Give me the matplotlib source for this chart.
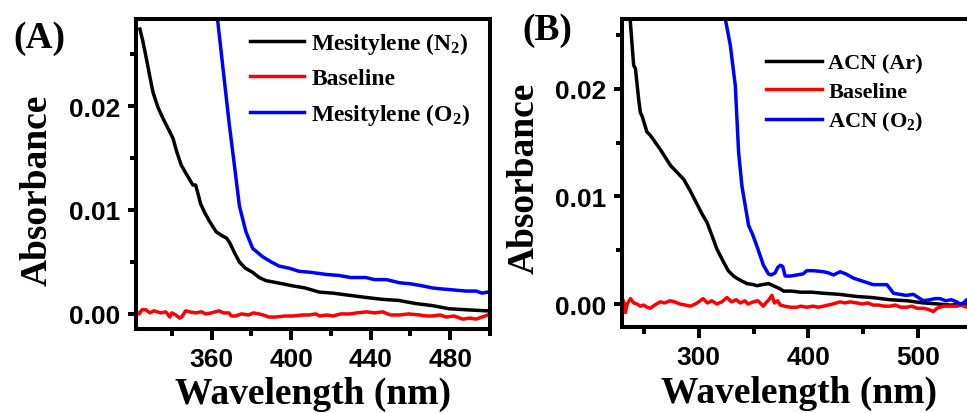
import numpy as np
import matplotlib
matplotlib.use("Agg")
import matplotlib.pyplot as plt
from matplotlib.ticker import MultipleLocator, AutoMinorLocator

plt.rcParams['font.family'] = ['Liberation Serif', 'DejaVu Serif']
plt.rcParams['font.weight'] = 'bold'
plt.rcParams['mathtext.fontset'] = 'custom'
plt.rcParams['mathtext.rm'] = 'Liberation Serif:bold'
plt.rcParams['mathtext.it'] = 'Liberation Serif:bold'
plt.rcParams['mathtext.bf'] = 'Liberation Serif:bold'

# ---- Panel A: mesitylene ----
a_n2_wl = [324, 325.5, 327.3, 329, 330.6, 333, 335.6, 338, 340.6, 342.5, 344.8, 347.5,
           350.6, 352, 353, 354.5, 356.4, 359, 362.3, 365.5, 367.5, 369, 371.5, 374, 377,
           380.7, 384, 387.4, 393, 400.8, 407, 414.2, 421, 429, 437, 446, 454, 462.6, 471,
           479.4, 488, 497.8, 500]
a_n2_abs = [0.0274, 0.0262, 0.0245, 0.0228, 0.0213, 0.0199, 0.0188, 0.0179, 0.0169, 0.0156,
            0.0143, 0.0134, 0.0124, 0.0124, 0.0117, 0.0106, 0.0098, 0.0089, 0.0079, 0.0075,
            0.0073, 0.0069, 0.0059, 0.0050, 0.0044, 0.0040, 0.0035, 0.0032, 0.0030, 0.0027,
            0.0025, 0.0021, 0.0020, 0.0018, 0.0016, 0.0014, 0.0013, 0.0010, 0.0008, 0.0005,
            0.0004, 0.0003, 0.0003]

a_base_wl = [322.5, 323.6, 325, 327, 329, 331, 334.5, 337, 339, 340, 342, 344, 345, 347,
             349, 352, 355, 357, 360, 363.7, 366, 368.7, 370, 372, 375, 378.7, 381, 383.8,
             386, 388.8, 392, 397, 401, 405.8, 409, 412.4, 414.4, 418, 421, 425, 429.5, 433,
             438, 442, 446, 450, 454.6, 459, 464.7, 468, 471, 475, 478, 482, 486.3, 490,
             493, 496, 499, 500]
a_base_abs = [0.0002, 0.0, 0.0004, 0.0004, 0.0001, 0.0003, 0.0001, 0.0002, -0.0003, 0.0001,
              -0.0001, -0.0004, -0.0003, 0.0003, 0.0002, 0.0001, 0.0002, 0.0, 0.0001, 0.0003,
              0.0001, 0.0001, -0.0002, -0.0002, 0.0, -0.0001, 0.0001, 0.0, -0.0001, -0.0003,
              -0.0003, -0.0002, -0.0002, -0.0001, -0.0001, 0.0, -0.0002, -0.0001, -0.0002,
              0.0, 0.0, 0.0001, 0.0002, 0.0001, 0.0002, -0.0001, -0.0001, 0.0, -0.0001,
              -0.0002, -0.0002, -0.0001, -0.0003, -0.0002, -0.0005, -0.0004, -0.0005, -0.0003,
              -0.0001, 0.0]

a_o2_wl = [363.1, 365.6, 369, 371.5, 374, 377.3, 380.7, 385.7, 390, 394, 399, 404, 410,
           417.5, 424, 430, 437.6, 442, 448, 454.4, 460, 466, 471, 476, 482, 487.9, 493,
           496, 498.8, 500]
a_o2_abs = [0.0282, 0.0239, 0.0181, 0.0143, 0.0104, 0.0079, 0.0063, 0.0055, 0.0050, 0.0046,
            0.0044, 0.0041, 0.0040, 0.0038, 0.0037, 0.0035, 0.0035, 0.0033, 0.0033, 0.0030,
            0.0029, 0.0027, 0.0025, 0.0024, 0.0023, 0.0022, 0.0022, 0.0020, 0.0021, 0.0020]

# ---- Panel B: acetonitrile ----
b_ar_wl = [237.9, 240.9, 242.5, 245.5, 247, 248.5, 253, 256, 265, 274.3, 286.4, 292, 298.5,
           303, 307.6, 312, 316.7, 322.7, 327, 331.8, 334.8, 340, 344, 350, 353, 358, 363.6,
           368, 374.3, 377.3, 385, 392.5, 403, 413.6, 428, 444, 458, 474, 490, 504.5, 518,
           528.8, 546]
b_ar_abs = [0.0262, 0.0222, 0.0219, 0.0190, 0.0178, 0.0175, 0.0160, 0.0157, 0.0144, 0.0129,
            0.0116, 0.0106, 0.0093, 0.0084, 0.0076, 0.0064, 0.0051, 0.0039, 0.0031, 0.0026,
            0.0024, 0.0021, 0.0019, 0.0018, 0.0017, 0.0018, 0.0019, 0.0017, 0.0014, 0.0012,
            0.0012, 0.0011, 0.0011, 0.0010, 0.0009, 0.0007, 0.0006, 0.0004, 0.0003, 0.0001,
            0.0, -0.0001, 0.0]

b_base_wl = [231, 231.8, 233.4, 235, 238, 241, 244, 247, 250, 253, 256, 260, 265, 269, 274,
             278, 283, 288, 292.5, 297, 300, 304, 308, 312, 316.7, 321, 325.8, 330, 334, 338,
             342, 345, 349.8, 354, 358.8, 362, 364, 366.7, 369, 372, 374.3, 378, 383.4, 389.5,
             393, 398.5, 404, 409, 413.6, 418, 422, 428.8, 433, 438, 444, 449, 454, 459, 464,
             469, 474.3, 479, 484, 489.4, 494, 499, 504.5, 509, 513.6, 517, 522.7, 528, 534.8,
             539, 544.3, 546]
b_base_abs = [0.0004, 0.0002, -0.0008, 0.0, 0.0005, 0.0001, 0.0, -0.0002, -0.0001, -0.0003,
              -0.0004, -0.0001, 0.0002, 0.0001, 0.0003, 0.0002, 0.0, -0.0001, -0.0002, 0.0,
              0.0002, 0.0005, 0.0001, 0.0003, 0.0, 0.0002, 0.0006, 0.0002, 0.0004, 0.0001,
              0.0003, 0.0, 0.0002, 0.0003, -0.0002, 0.0002, 0.0004, 0.0008, 0.0001, 0.0003,
              -0.0001, -0.0002, -0.0003, -0.0003, -0.0002, -0.0003, -0.0002, -0.0003, -0.0002,
              -0.0001, 0.0, 0.0002, 0.0001, 0.0002, 0.0001, 0.0, 0.0001, -0.0001, -0.0001,
              -0.0002, -0.0002, -0.0001, -0.0003, -0.0003, -0.0002, -0.0004, -0.0004, -0.0005,
              -0.0007, -0.0004, -0.0002, -0.0002, -0.0002, -0.0001, -0.0003, -0.0002]

b_o2_wl = [322.7, 324.3, 328.8, 333.4, 336.4, 339.4, 342.5, 345.5, 349, 353, 356, 359,
           363.6, 366, 369.7, 372, 374.3, 376.5, 378.8, 383.4, 389.5, 395, 398.5, 404.6,
           413.6, 418, 422.7, 428.8, 434, 441, 447, 453, 459, 465, 471.3, 474.5, 477.3, 483,
           489, 495.5, 500, 504.5, 510.6, 515, 519.7, 525, 530, 534.8, 538, 541, 544, 546]
b_o2_abs = [0.0270, 0.0265, 0.0241, 0.0203, 0.0141, 0.0110, 0.0091, 0.0073, 0.0065, 0.0054,
            0.0045, 0.0036, 0.0028, 0.0027, 0.0029, 0.0034, 0.0036, 0.0035, 0.0026, 0.0026,
            0.0027, 0.0028, 0.0031, 0.0031, 0.0030, 0.0029, 0.0027, 0.0030, 0.0028, 0.0024,
            0.0022, 0.0020, 0.0018, 0.0018, 0.0018, 0.0014, 0.0010, 0.0009, 0.0008, 0.0009,
            0.0006, 0.0003, 0.0004, 0.0005, 0.0005, 0.0003, 0.0004, 0.0002, 0.0, 0.0001,
            0.0004, 0.0004]


def style_axes(ax, xmajor):
    for s in ax.spines.values():
        s.set_linewidth(2.9)
    ax.xaxis.set_major_locator(MultipleLocator(xmajor))
    ax.xaxis.set_minor_locator(AutoMinorLocator(2))
    ax.yaxis.set_major_locator(MultipleLocator(0.01))
    ax.yaxis.set_minor_locator(AutoMinorLocator(2))
    ax.yaxis.set_major_formatter(plt.FuncFormatter(lambda v, p: f"{v:.2f}"))
    ax.tick_params(axis='x', which='major', length=8, width=2.9, direction='out', pad=5)
    ax.tick_params(axis='x', which='minor', length=5, width=2.9, direction='out')
    ax.tick_params(axis='y', which='major', length=6, width=2.9, direction='out', pad=5)
    ax.tick_params(axis='y', which='minor', length=4, width=2.9, direction='out')
    for lab in ax.get_xticklabels() + ax.get_yticklabels():
        lab.set_fontfamily('Liberation Sans')
        lab.set_fontweight('bold')
        lab.set_fontsize(19)


fig = plt.figure(figsize=(9.67, 4.14), dpi=100)

# panel A
ax1 = fig.add_axes([0.1406, 0.2029, 0.3661, 0.7488])
ax1.plot(a_n2_wl, a_n2_abs, color='black', lw=2.5, label='Mesitylene (N$_2$)')
ax1.plot(a_base_wl, a_base_abs, color='red', lw=2.5, label='Baseline')
ax1.plot(a_o2_wl, a_o2_abs, color='blue', lw=2.5, label='Mesitylene (O$_2$)')
ax1.set_xlim(322, 500)
ax1.set_ylim(-0.00145, 0.02837)
style_axes(ax1, 40)
ax1.set_xlabel('Wavelength (nm)', fontsize=27, fontweight='bold', va='center')
ax1.xaxis.set_label_coords(0.5, -0.207)
ax1.set_ylabel('Absorbance', fontsize=27, fontweight='bold', va='center')
ax1.yaxis.set_label_coords(-0.28, 0.452)
ax1.legend(loc='upper left', bbox_to_anchor=(0.322, 0.965), frameon=False, fontsize=17,
           handlelength=2.3, handletextpad=0.3, borderpad=0, borderaxespad=0,
           labelspacing=0.51)
fig.text(13 / 967, 1 - 39 / 414, '(A)', fontsize=27, fontweight='bold', va='center', ha='left')

# panel B
ax2 = fig.add_axes([0.6429, 0.2077, 0.3591, 0.7440])
ax2.plot(b_ar_wl, b_ar_abs, color='black', lw=2.5, label='ACN (Ar)')
ax2.plot(b_base_wl, b_base_abs, color='red', lw=2.5, label='Baseline')
ax2.plot(b_o2_wl, b_o2_abs, color='blue', lw=2.5, label='ACN (O$_2$)')
ax2.set_xlim(230, 546)
ax2.set_ylim(-0.00214, 0.02651)
style_axes(ax2, 100)
ax2.set_xlabel('Wavelength (nm)', fontsize=27, fontweight='bold', va='center')
ax2.xaxis.set_label_coords(0.51, -0.213)
ax2.set_ylabel('Absorbance', fontsize=27, fontweight='bold', va='center')
ax2.yaxis.set_label_coords(-0.28, 0.487)
ax2.legend(loc='upper left', bbox_to_anchor=(0.4155, 0.89), frameon=False, fontsize=16,
           handlelength=2.5, handletextpad=0.3, borderpad=0, borderaxespad=0,
           labelspacing=0.36)
fig.text(522 / 967, 1 - 30 / 414, '(B)', fontsize=27, fontweight='bold', va='center', ha='left')

fig.savefig('out.png', dpi=100)
